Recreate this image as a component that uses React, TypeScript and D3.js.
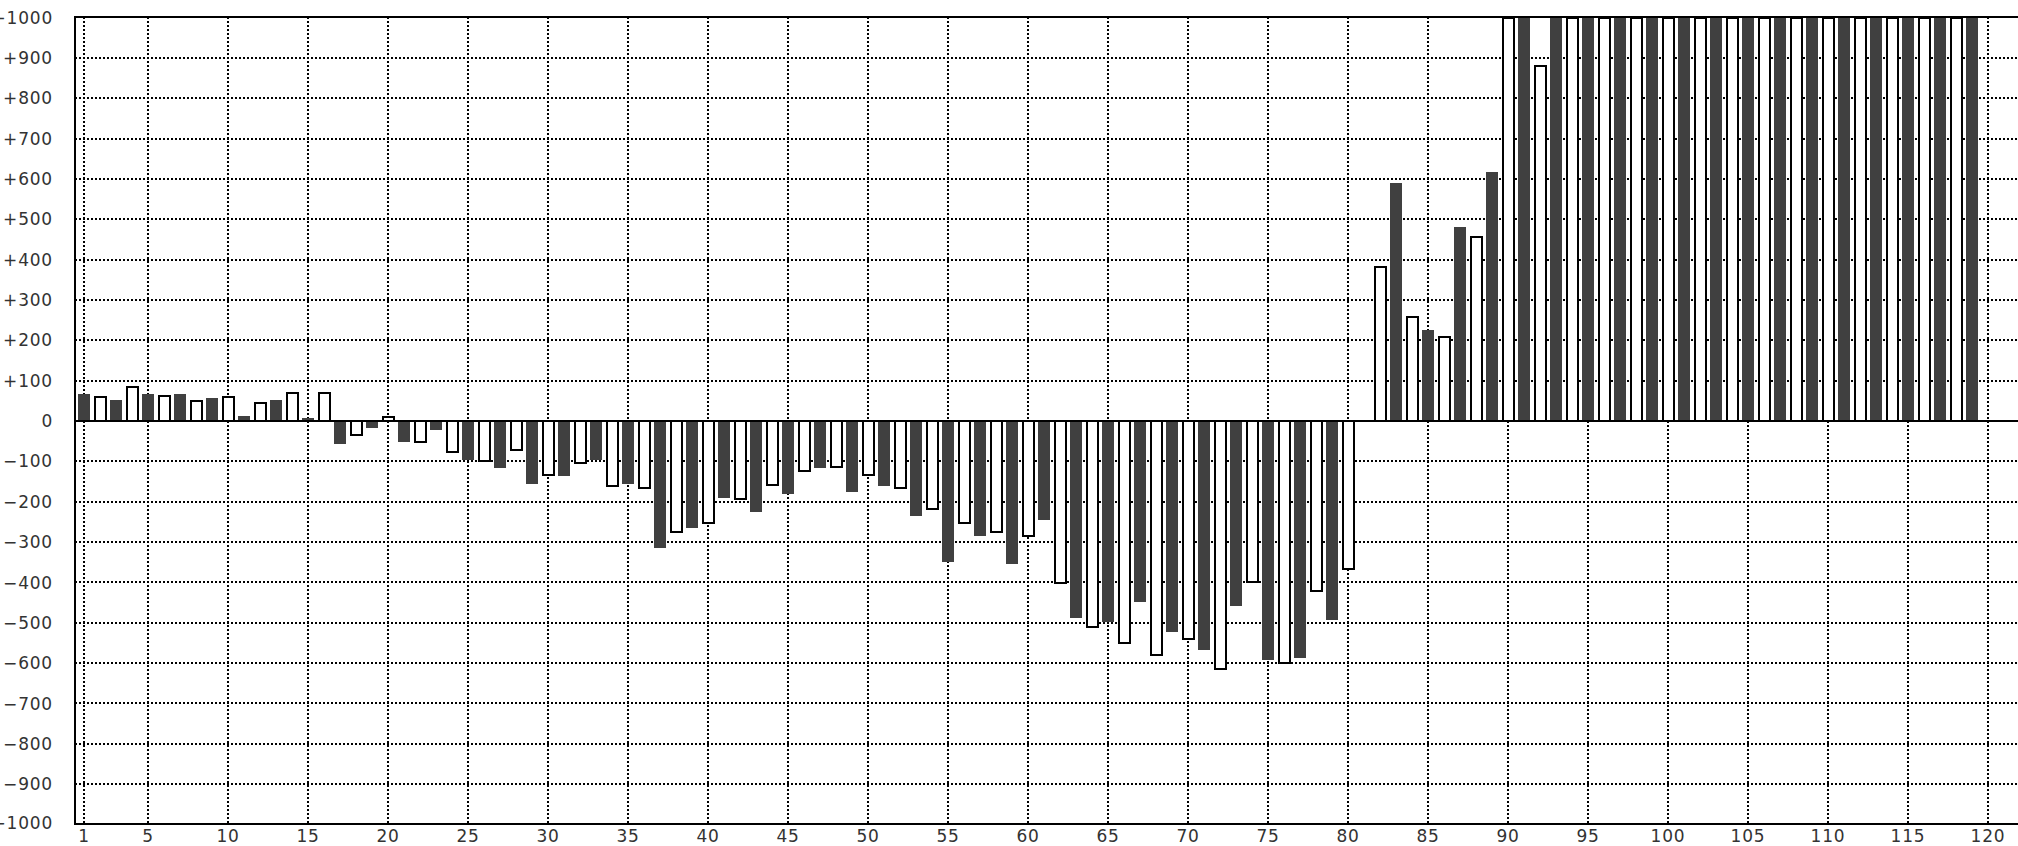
import React from "react";
import * as d3 from "d3";

// Dark (filled) bars sit at odd positions 1, 3, ..., 119
const darkPositions = d3.range(1, 120, 2);
const darkValues = [
  66, 51, 66, 66, 56, 12, 51, 7, -58, -17,
  -53, -23, -97, -117, -157, -137, -97, -157, -315, -266,
  -191, -226, -181, -117, -176, -162, -236, -350, -285, -355,
  -246, -488, -498, -449, -523, -568, -459, -592, -587, -493,
  0, 591, 225, 482, 616, 1000, 1000, 1000, 1000, 1000,
  1000, 1000, 1000, 1000, 1000, 1000, 1000, 1000, 1000, 1000,
];

// Light (outlined) bars sit at even positions 2, 4, ..., 120
const lightPositions = d3.range(2, 121, 2);
const lightValues: (number | null)[] = [
  60, 84, 63, 50, 59, 45, 70, 70, -35, 10,
  -51, -76, -100, -71, -135, -105, -160, -165, -274, -254,
  -194, -158, -124, -115, -135, -165, -219, -254, -274, -284,
  -402, -511, -551, -581, -540, -615, -398, -600, -422, -368,
  381, 257, 208, 455, 1000, 881, 1000, 1000, 1000, 1000,
  1000, 1000, 1000, 1000, 1000, 1000, 1000, 1000, 1000, null,
];

const xTicks = [1, 5, 10, 15, 20, 25, 30, 35, 40, 45, 50, 55, 60, 65, 70, 75, 80, 85, 90, 95, 100, 105, 110, 115, 120];
const yTicks = [-1000, -900, -800, -700, -600, -500, -400, -300, -200, -100, 0, 100, 200, 300, 400, 500, 600, 700, 800, 900, 1000];

const W = 2018;
const H = 846;
const plotLeft = 75;
const plotRight = 2030;
const plotTop = 17;
const plotBottom = 824;

export default function App() {
  const x = d3.scaleLinear().domain([1, 120]).range([84, 84 + 119 * 16]);
  const y = d3.scaleLinear().domain([-1000, 1000]).range([824.5, 17.5]);
  const yr = (v: number) => Math.round(y(v));
  const fmt = d3.format("+");
  const label = (v: number) => (v === 0 ? "0" : fmt(v));
  const y0 = yr(0);
  const barW = 12;
  const font = "'DejaVu Sans', sans-serif";
  const clampY = (v: number) => Math.max(plotTop, Math.min(plotBottom, Math.round(y(v))));

  return (
    <svg
      width={W}
      height={H}
      style={{ position: "absolute", left: 0, top: 0, display: "block", background: "#fff" }}
    >
      <rect x={0} y={0} width={W} height={H} fill="#fff" />
      {/* dotted grid */}
      <g stroke="#000" strokeWidth={2} strokeDasharray="2,2" fill="none">
        {yTicks
          .filter((v) => v !== 0 && Math.abs(v) !== 1000)
          .map((v) => (
            <line key={"h" + v} x1={plotLeft} x2={plotRight} y1={yr(v)} y2={yr(v)} />
          ))}
        {xTicks.map((t) => (
          <line key={"v" + t} x1={x(t)} x2={x(t)} y1={plotTop} y2={plotBottom} />
        ))}
      </g>
      {/* dark bars */}
      <g fill="#404040">
        {darkValues.map((v, i) =>
          v === 0 ? null : (
            <rect
              key={"d" + i}
              x={x(darkPositions[i]) - barW / 2}
              y={Math.min(clampY(v), y0)}
              width={barW}
              height={Math.abs(clampY(v) - y0)}
            />
          )
        )}
      </g>
      {/* light bars */}
      <g fill="#fff" stroke="#000" strokeWidth={2}>
        {lightValues.map((v, i) =>
          v === null || v === 0 ? null : (
            <rect
              key={"l" + i}
              x={x(lightPositions[i]) - 5}
              y={Math.min(clampY(v), y0)}
              width={barW - 1}
              height={Math.abs(clampY(v) - y0)}
            />
          )
        )}
      </g>
      {/* zero line and frame */}
      <g stroke="#000" strokeWidth={2}>
        <line x1={plotLeft} x2={plotRight} y1={y0} y2={y0} />
        <line x1={plotLeft - 1} x2={plotRight} y1={plotTop} y2={plotTop} />
        <line x1={plotLeft - 1} x2={plotRight} y1={plotBottom} y2={plotBottom} />
        <line x1={plotLeft} x2={plotLeft} y1={plotTop} y2={plotBottom} />
      </g>
      {/* y labels */}
      <g fontFamily={font} fontSize={17} fill="#333" textAnchor="end" letterSpacing={0.8}>
        {yTicks.map((v) => (
          <text key={"yl" + v} x={53} y={Math.min(y(v), 823)} dy="0.36em">
            {label(v)}
          </text>
        ))}
      </g>
      {/* x labels */}
      <g fontFamily={font} fontSize={17} fill="#333" textAnchor="middle" letterSpacing={0.8}>
        {xTicks.map((t) => (
          <text key={"xl" + t} x={x(t)} y={841.5}>
            {t}
          </text>
        ))}
      </g>
    </svg>
  );
}
